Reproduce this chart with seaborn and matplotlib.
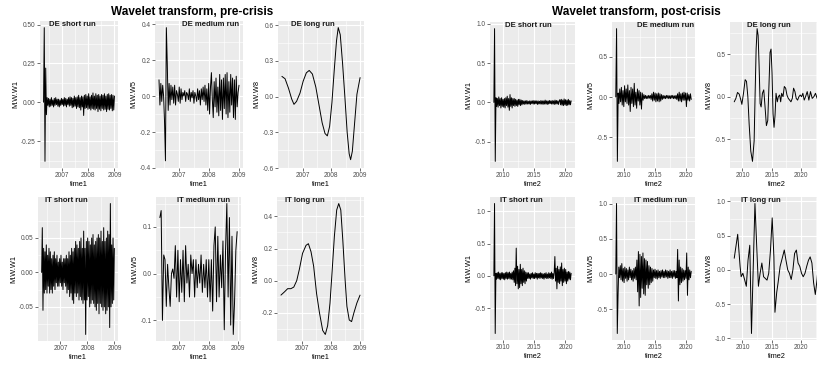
import numpy as np
import pandas as pd
import matplotlib
matplotlib.use("Agg")
import matplotlib.pyplot as plt
import seaborn as sns

# ---------------- data ----------------
PRE_START, PRE_END = 2006.30, 2009.00
POST_START, POST_END = 2008.60, 2020.90

pre_xticks = [2007, 2008, 2009]
post_xticks = [2010, 2015, 2020]

de_short_pre = [0.0, 0.48, -0.38, 0.22, -0.08, 0.03, -0.02, 0.025, -0.03, 0.02, -0.025, 0.03, -0.02, 0.015,
                -0.03, 0.025, -0.02, 0.03, -0.015, 0.02, -0.025, 0.02, -0.03, 0.015, -0.02, 0.025, -0.015, 0.02,
                -0.025, 0.03, -0.02, 0.025, -0.03, 0.02, -0.015, 0.03, -0.025, 0.035, -0.02, 0.03, -0.035, 0.025,
                -0.03, 0.04, -0.025, 0.03, -0.04, 0.035, -0.03, 0.045, -0.035, 0.03, -0.05, 0.04, -0.03, 0.035,
                -0.085, 0.045, -0.04, 0.05, -0.035, 0.04, -0.045, 0.055, -0.04, 0.035, -0.05, 0.045, -0.04, 0.06,
                -0.045, 0.04, -0.05, 0.055, -0.04, 0.045, -0.06, 0.05, -0.045, 0.04, -0.055, 0.05, -0.04, 0.045,
                -0.05, 0.055, -0.045, 0.04, -0.06, 0.05, -0.045, 0.055, -0.05, 0.045, -0.04, 0.05, -0.055, 0.045,
                -0.05, 0.04]

de_med_pre = [0.09, -0.05, 0.07, -0.03, 0.06, 0.0, -0.14, -0.36, 0.38, 0.18, -0.08, 0.07, -0.05, 0.06, -0.02,
              0.05, -0.04, 0.06, -0.05, 0.03, 0.01, -0.03, 0.05, -0.04, 0.04, -0.02, 0.02, 0.0, 0.03, -0.03,
              0.02, 0.01, -0.02, 0.04, -0.03, 0.02, -0.01, 0.03, -0.04, 0.02, 0.0, -0.03, 0.04, -0.02, 0.03,
              -0.05, 0.04, -0.02, 0.05, -0.03, 0.06, -0.05, 0.04, -0.08, 0.07, -0.10, 0.05, 0.13, -0.02, -0.12,
              0.08, -0.06, 0.10, -0.09, 0.05, -0.11, 0.12, -0.08, 0.09, -0.13, 0.10, -0.07, 0.12, -0.10, 0.13,
              -0.12, 0.08, -0.09, 0.12, -0.05, 0.10, -0.12, 0.09, -0.13, 0.11, -0.06, 0.02, 0.06]

de_long_pre_t = [2006.28, 2006.39, 2006.51, 2006.62, 2006.70, 2006.79, 2006.91, 2007.02, 2007.13, 2007.23,
                 2007.34, 2007.46, 2007.57, 2007.68, 2007.78, 2007.86, 2007.94, 2008.02, 2008.10, 2008.18,
                 2008.24, 2008.31, 2008.39, 2008.47, 2008.55, 2008.62, 2008.67, 2008.73, 2008.81, 2008.89,
                 2009.00]
de_long_pre = [0.17, 0.15, 0.07, -0.02, -0.065, -0.04, 0.03, 0.13, 0.20, 0.22, 0.19, 0.08, -0.07, -0.22,
               -0.31, -0.33, -0.25, -0.05, 0.22, 0.47, 0.58, 0.52, 0.28, 0.00, -0.30, -0.48, -0.53, -0.46,
               -0.22, 0.02, 0.16]

it_short_pre = [0.0, 0.065, -0.055, 0.035, -0.03, 0.03, -0.025, 0.04, -0.03, 0.025, -0.02, 0.035, -0.03, 0.03,
                -0.025, 0.02, -0.03, 0.025, -0.02, 0.03, -0.025, 0.02, -0.015, 0.025, -0.02, 0.015, -0.02, 0.02,
                -0.015, 0.025, -0.02, 0.015, -0.025, 0.02, -0.015, 0.02, -0.02, 0.025, -0.03, 0.02, -0.025, 0.03,
                -0.035, 0.025, -0.03, 0.035, -0.04, 0.03, -0.045, 0.035, -0.03, 0.045, -0.035, 0.04, -0.03,
                0.035, -0.04, 0.045, -0.035, 0.05, -0.04, 0.035, -0.045, 0.06, -0.04, 0.035, -0.09, 0.045, -0.04,
                0.05, -0.035, 0.045, -0.05, 0.04, -0.045, 0.05, -0.04, 0.055, -0.045, 0.04, -0.05, 0.045, -0.055,
                0.05, -0.045, 0.055, -0.06, 0.05, -0.045, 0.06, -0.05, 0.045, -0.055, 0.065, -0.05, 0.045, -0.06,
                0.05, -0.055, 0.06, -0.05, 0.055, -0.08, 0.10, -0.05, 0.04, -0.045, 0.05, -0.04, 0.035]

it_med_pre = [0.12, 0.135, -0.10, 0.04, 0.03, -0.07, 0.02, -0.03, -0.07, 0.0, 0.01, -0.01, 0.06, -0.05, 0.05,
              -0.06, 0.03, -0.04, 0.05, -0.06, 0.06, -0.02, 0.02, -0.05, 0.04, 0.0, 0.03, -0.05, 0.03, -0.03,
              0.02, -0.02, 0.04, -0.04, 0.02, -0.03, 0.03, -0.05, 0.03, -0.06, 0.03, -0.08, 0.06, 0.10, -0.06,
              0.08, -0.05, 0.04, -0.03, 0.07, -0.12, 0.05, 0.15, -0.05, 0.12, -0.11, 0.08, -0.13, -0.06, 0.05,
              0.09]

it_long_pre_t = [2006.29, 2006.41, 2006.52, 2006.63, 2006.73, 2006.83, 2006.92, 2007.03, 2007.15, 2007.23,
                 2007.32, 2007.41, 2007.51, 2007.61, 2007.72, 2007.81, 2007.89, 2007.97, 2008.04, 2008.12,
                 2008.20, 2008.27, 2008.34, 2008.41, 2008.49, 2008.55, 2008.63, 2008.71, 2008.79, 2008.89,
                 2009.00]
it_long_pre = [-0.09, -0.07, -0.05, -0.05, -0.04, 0.00, 0.07, 0.17, 0.22, 0.23, 0.18, 0.09, -0.08, -0.20,
               -0.31, -0.335, -0.28, -0.14, 0.05, 0.275, 0.44, 0.48, 0.44, 0.25, 0.0, -0.16, -0.245, -0.255,
               -0.20, -0.14, -0.09]

de_short_post = [0.0, 0.94, -0.75, 0.06, -0.05, 0.05, -0.06, 0.07, -0.04, 0.05, -0.07, 0.06, -0.05, 0.04,
                 -0.06, 0.05, -0.07, 0.06, -0.04, 0.08, -0.06, 0.05, -0.10, 0.10, -0.05, 0.06, -0.07, 0.05,
                 -0.04, 0.05, -0.05, 0.04, -0.04, 0.03, -0.05, 0.04, -0.03, 0.04, -0.04, 0.03, -0.03,
                 0.025, -0.02, 0.02, -0.025, 0.02, -0.02, 0.025, -0.02, 0.015, -0.02, 0.02, -0.025, 0.02,
                 -0.015, 0.02, -0.02, 0.025, -0.02, 0.02, -0.015, 0.02, -0.025, 0.02, -0.02, 0.015, -0.02,
                 0.025, -0.02, 0.02, -0.025, 0.02, -0.02, 0.03, -0.02, 0.02, -0.025, 0.02, -0.02, 0.025,
                 -0.015, 0.02, -0.02, 0.025, -0.02, 0.02, -0.025, 0.03, -0.02, 0.025, -0.02, 0.02, -0.025,
                 0.02, 0.035, -0.03, 0.04, -0.035, 0.03, -0.04, 0.045, -0.03, 0.035, -0.04, 0.03, -0.035,
                 0.04, -0.03, 0.025, -0.03, 0.02]

de_med_post = [0.0, 0.85, -0.80, 0.05, -0.08, 0.10, -0.06, 0.12, -0.10, 0.08, -0.12, 0.14, -0.06, 0.10, -0.08,
               0.15, -0.10, 0.08, -0.18, 0.12, -0.08, 0.10, -0.12, 0.17, -0.10, 0.06, -0.14, 0.10, -0.05, 0.08,
               -0.10, 0.06, -0.15, 0.05, -0.04, 0.03, -0.02, 0.02, -0.02, 0.015, -0.02, 0.02, -0.015, 0.02,
               -0.03, 0.04, -0.05, 0.06, -0.04, 0.05, -0.06, 0.04, -0.05, 0.05, -0.06, 0.04, -0.05, 0.03,
               -0.03, 0.02, -0.02, 0.015, -0.02, 0.02, -0.015, 0.02, -0.02, 0.015, -0.02, 0.02, -0.015,
               0.02, -0.02, 0.015, -0.02, 0.02, -0.03, 0.04, -0.05, 0.06, -0.05, 0.04, -0.06, 0.05, -0.04,
               0.06, -0.04, 0.05, -0.12, 0.05, -0.04, 0.03, -0.05, 0.04, -0.03]

de_long_post_t = [2008.60, 2008.88, 2009.16, 2009.45, 2009.73, 2009.90, 2010.18, 2010.46, 2010.69, 2010.92,
                  2011.14, 2011.42, 2011.71, 2011.99, 2012.16, 2012.33, 2012.50, 2012.67, 2012.84, 2013.01,
                  2013.18, 2013.40, 2013.63, 2013.85, 2014.08, 2014.31, 2014.53, 2014.70, 2014.87, 2015.04,
                  2015.21, 2015.38, 2015.55, 2015.72, 2015.94, 2016.11, 2016.34, 2016.51, 2016.68, 2016.91,
                  2017.13, 2017.36, 2017.58, 2017.81, 2018.04, 2018.26, 2018.49, 2018.71, 2018.94, 2019.16,
                  2019.39, 2019.62, 2019.84, 2020.07, 2020.29, 2020.52, 2020.75, 2021.03, 2021.31, 2021.59,
                  2021.88, 2022.16, 2022.44, 2022.72, 2023.00]
de_long_post = [-0.06, -0.02, 0.05, 0.03, -0.04, -0.09, 0.04, 0.20, 0.18, 0.0,
                -0.32, -0.64, -0.76, -0.52, 0.04, 0.56, 0.80, 0.72, 0.36, -0.08,
                -0.12, 0.04, 0.08, -0.12, -0.34, -0.28, 0.16, 0.52, 0.56, 0.28,
                -0.20, -0.36, -0.22, 0.04, -0.06, 0.0, 0.02, -0.06, 0.04, 0.0,
                0.12, 0.10, 0.02, -0.02, -0.04, -0.06, -0.02, 0.10, 0.06, -0.02,
                -0.04, 0.0, 0.02, 0.0, 0.04, -0.04, 0.0, 0.06, -0.04, 0.06,
                -0.02, 0.0, 0.04, -0.02, 0.0]

it_short_post = [0.0, 1.12, -0.89, 0.04, -0.05, 0.05, -0.04, 0.06, -0.05, 0.04, -0.06, 0.05, -0.04, 0.05,
                 -0.05, 0.04, -0.06, 0.05, -0.04, 0.06, -0.05, 0.05, -0.04, 0.06, -0.05, 0.04, -0.05, 0.06,
                 -0.06, 0.08, -0.10, 0.12, -0.15, 0.43, -0.12, 0.15, -0.20, 0.10, -0.18, 0.18, -0.12, 0.10,
                 -0.15, 0.12, -0.10, 0.08, -0.12, 0.06, -0.08, 0.05, -0.04, 0.05, -0.04, 0.03, -0.05, 0.04,
                 -0.03, 0.05, -0.04, 0.03, -0.04, 0.05, -0.03, 0.04, -0.05, 0.04, -0.03, 0.04, -0.04, 0.05,
                 -0.03, 0.04, -0.04, 0.03, -0.05, 0.04, -0.03, 0.05, -0.04, 0.03, -0.04, 0.05, -0.03, 0.04,
                 -0.04, 0.06, -0.05, 0.04, -0.04, 0.05, 0.30, -0.08, 0.12, -0.20, 0.15, -0.10, 0.10, -0.12,
                 0.14, -0.08, 0.20, -0.15, 0.10, -0.10, 0.12, -0.08, 0.10, -0.12, 0.06, -0.08, 0.07, -0.05,
                 0.06, -0.06, 0.04]

it_med_post = [0.0, 1.0, -0.84, -0.30, 0.10, -0.05, 0.12, -0.08, 0.15, -0.10, 0.08, -0.12, 0.10, -0.06, 0.08,
               -0.10, 0.06, -0.08, 0.10, -0.05, 0.07, -0.08, 0.05, -0.10, 0.08, -0.06, 0.10, -0.08, 0.20,
               -0.25, 0.32, -0.45, 0.28, -0.33, 0.25, -0.20, 0.30, -0.28, 0.22, -0.30, 0.20, -0.15, 0.18,
               -0.20, 0.12, -0.15, 0.10, -0.12, 0.08, -0.10, 0.06, -0.05, 0.07, -0.06, 0.05, -0.07, 0.06,
               -0.05, 0.04, -0.06, 0.05, -0.04, 0.06, -0.05, 0.04, -0.05, 0.06, -0.04, 0.05, -0.06, 0.04,
               -0.05, 0.06, -0.05, 0.04, -0.06, 0.05, -0.04, 0.05, -0.06, 0.04, -0.05, 0.35, -0.38, 0.20,
               -0.15, 0.10, -0.12, 0.08, -0.10, 0.06, -0.08, 0.05, -0.06, 0.30, -0.30, 0.10, -0.08, 0.06,
               -0.05, 0.04]

it_long_post_t = [2008.60, 2009.19, 2009.60, 2009.78, 2010.07, 2010.36, 2010.66, 2010.95, 2011.25, 2011.54,
                  2012.13, 2012.72, 2013.01, 2013.31, 2013.60, 2014.19, 2014.48, 2014.78, 2015.07, 2015.36,
                  2015.54, 2015.84, 2016.07, 2016.42, 2016.84, 2017.13, 2017.42, 2017.72, 2018.01, 2018.31,
                  2018.60, 2018.89, 2019.19, 2019.48, 2019.78, 2020.07, 2020.36, 2020.66, 2020.95, 2021.25,
                  2021.54, 2021.84, 2022.13, 2022.42, 2022.72, 2023.01]
it_long_post = [0.17, 0.52, 0.05, -0.10, -0.05, -0.14, -0.24, 0.14, 0.36, -0.93,
                0.97, -0.24, -0.05, 0.10, -0.10, -0.15, -0.05, 0.29, 0.76, 0.19,
                -0.62, -0.33, -0.19, 0.05, 0.19, 0.29, 0.14, 0.0, -0.05, -0.14,
                0.0, 0.24, 0.29, 0.10, 0.05, -0.05, -0.10, -0.05, 0.05, 0.14,
                0.19, 0.10, -0.19, -0.36, -0.14, 0.17]

# ---------------- style ----------------
sns.set_theme(style="darkgrid")
plt.rcParams['font.family'] = ['Liberation Sans', 'DejaVu Sans']

W, H = 817, 365
fig = plt.figure(figsize=(W / 100, H / 100), dpi=100)
fig.patch.set_facecolor('white')


def rect(l, t, r, b):
    return [l / W, 1 - b / H, (r - l) / W, (b - t) / H]


def even_time(values, start, end):
    return np.linspace(start, end, len(values))


def draw(box, t, v, title, tx, ylabel, xlabel, yticks, yfmt, xticks):
    ax = fig.add_axes(rect(*box))
    df = pd.DataFrame({"t": t, "v": v})
    sns.lineplot(data=df, x="t", y="v", ax=ax, color="black", linewidth=0.7,
                 estimator=None, sort=False)
    ax.set_facecolor('#EBEBEB')
    ax.set_xticks(xticks, labels=[str(x) for x in xticks])
    ax.set_yticks(yticks, labels=[yfmt.format(y) for y in yticks])
    xlo, xhi = ax.get_xlim()
    ylo, yhi = ax.get_ylim()
    xs = xticks[1] - xticks[0]
    ys = yticks[1] - yticks[0]
    xm = [x + xs / 2 for x in [xticks[0] - xs] + list(xticks)]
    ym = [y + ys / 2 for y in [yticks[0] - ys] + list(yticks)]
    ax.set_xticks([m for m in xm if xlo < m < xhi], minor=True)
    ax.set_yticks([m for m in ym if ylo < m < yhi], minor=True)
    ax.set_xlim(xlo, xhi)
    ax.set_ylim(ylo, yhi)
    ax.grid(True, which='major', color='white', linewidth=0.8)
    ax.grid(True, which='minor', color='white', linewidth=0.4)
    ax.set_axisbelow(True)
    for s in ax.spines.values():
        s.set_visible(False)
    ax.tick_params(which='major', bottom=True, left=True, length=2, width=0.5,
                   color='#333333', labelsize=4.7, labelcolor='#4D4D4D', pad=1)
    ax.tick_params(which='minor', bottom=False, left=False, length=0)
    ax.set_xlabel(xlabel, fontsize=5.3, labelpad=1, color='black')
    ax.set_ylabel(ylabel, fontsize=5.3, labelpad=1.5, color='black')
    ax.text(tx, 0.997, title, transform=ax.transAxes, ha='center', va='top',
            fontsize=5.6, fontweight='bold', color='#1A1A1A', zorder=5)
    return ax


f1 = "{:.1f}"
f2 = "{:.2f}"

# pre-crisis
draw((40, 21, 118, 168), even_time(de_short_pre, PRE_START, PRE_END), de_short_pre,
     "DE short run", 0.42, "M.W.W1", "time1", [-0.25, 0.0, 0.25, 0.5], f2, pre_xticks)
draw((155, 21, 243, 168), even_time(de_med_pre, 2006.33, PRE_END), de_med_pre,
     "DE medium run", 0.63, "M.W.W5", "time1", [-0.4, -0.2, 0.0, 0.2, 0.4], f1, pre_xticks)
draw((278, 21, 364, 168), de_long_pre_t, de_long_pre,
     "DE long run", 0.41, "M.W.W8", "time1", [-0.6, -0.3, 0.0, 0.3, 0.6], f1, pre_xticks)
draw((38, 197, 118, 341), even_time(it_short_pre, PRE_START, PRE_END), it_short_pre,
     "IT short run", 0.35, "M.W.W1", "time1", [-0.05, 0.0, 0.05], f2, pre_xticks)
draw((156, 197, 241, 341), even_time(it_med_pre, 2006.33, 2008.98), it_med_pre,
     "IT medium run", 0.56, "M.W.W5", "time1", [-0.1, 0.0, 0.1], f1, pre_xticks)
draw((277, 197, 364, 341), it_long_pre_t, it_long_pre,
     "IT long run", 0.32, "M.W.W8", "time1", [-0.2, 0.0, 0.2, 0.4], f1, pre_xticks)

# post-crisis
draw((490, 22, 575, 168), even_time(de_short_post, POST_START, POST_END), de_short_post,
     "DE short run", 0.45, "M.W.W1", "time2", [-0.5, 0.0, 0.5, 1.0], f1, post_xticks)
draw((612, 22, 695, 168), even_time(de_med_post, POST_START, POST_END), de_med_post,
     "DE medium run", 0.64, "M.W.W5", "time2", [-0.5, 0.0, 0.5], f1, post_xticks)
draw((730, 22, 823, 168), de_long_post_t, de_long_post,
     "DE long run", 0.42, "M.W.W8", "time2", [-0.5, 0.0, 0.5], f1, post_xticks)
draw((490, 197, 575, 340), even_time(it_short_post, POST_START, POST_END), it_short_post,
     "IT short run", 0.37, "M.W.W1", "time2", [-0.5, 0.0, 0.5, 1.0], f1, post_xticks)
draw((612, 197, 695, 340), even_time(it_med_post, POST_START, POST_END), it_med_post,
     "IT medium run", 0.59, "M.W.W5", "time2", [-0.5, 0.0, 0.5, 1.0], f1, post_xticks)
draw((730, 197, 823, 340), it_long_post_t, it_long_post,
     "IT long run", 0.33, "M.W.W8", "time2", [-1.0, -0.5, 0.0, 0.5, 1.0], f1, post_xticks)

fig.text(192 / W, 1 - 12 / H, "Wavelet transform, pre-crisis", ha='center', va='center',
         fontsize=8.5, fontweight='bold', color='black')
fig.text(636 / W, 1 - 12 / H, "Wavelet transform, post-crisis", ha='center', va='center',
         fontsize=8.5, fontweight='bold', color='black')

fig.savefig("out.png", dpi=100, facecolor='white')
